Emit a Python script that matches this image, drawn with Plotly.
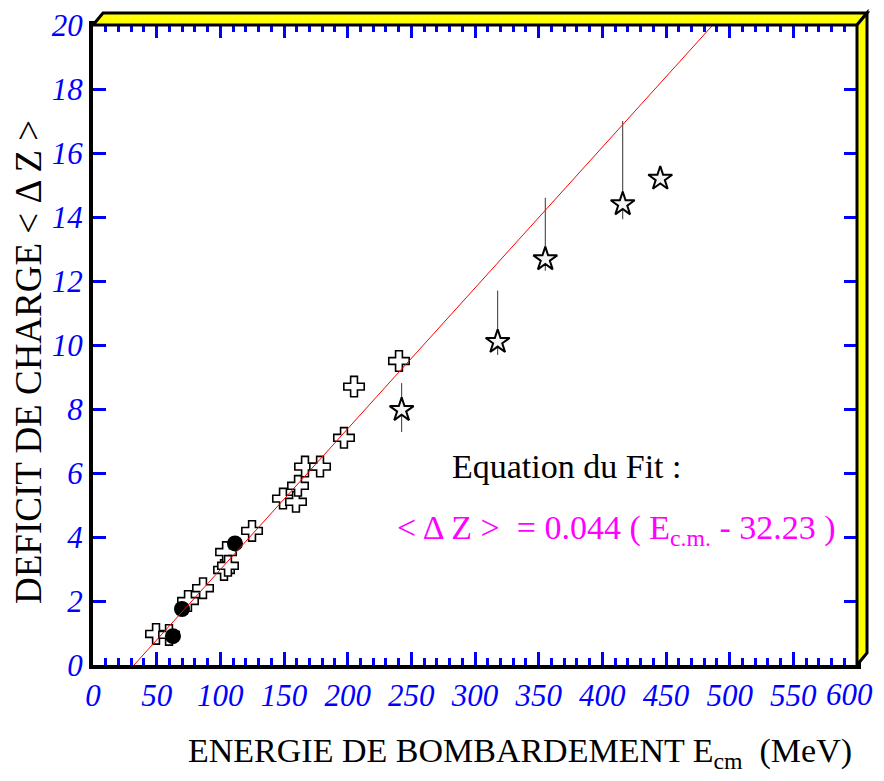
import plotly.graph_objects as go
import numpy as np

# ---- data ----
circle_x = [62.8, 69.9, 111.5]
circle_y = [0.9, 1.75, 3.8]

cross_x = [49.5, 59.7, 74.6, 86.4, 102.9, 104.5, 106.0, 124.9, 149.2, 159.4, 161.0, 166.5, 178.3, 197.1, 205.0, 240.3]
cross_y = [0.97, 0.94, 2.0, 2.4, 2.97, 3.53, 3.1, 4.19, 5.2, 5.1, 5.6, 6.2, 6.2, 7.1, 8.7, 9.5]

star_x = [242.4, 317.8, 355.2, 416.0, 445.5]
star_y = [7.97, 10.1, 12.68, 14.4, 15.2]
star_err_plus = [0.84, 1.6, 1.92, 2.6, 0.0]
star_err_minus = [0.69, 0.41, 0.36, 0.47, 0.0]

fit_slope = 0.044
fit_e0 = 32.23

x_range = [0, 600]
y_range = [0, 20]
x_tick_vals = [0, 50, 100, 150, 200, 250, 300, 350, 400, 450, 500, 550, 600]
x_tick_text = [str(v) for v in x_tick_vals]
y_tick_vals = [0, 2, 4, 6, 8, 10, 12, 14, 16, 18, 20]
y_tick_text = [str(v) for v in y_tick_vals]

# fit line from the fit parameters, clipped to the frame
fit_x = np.array([fit_e0, fit_e0 + y_range[1] / fit_slope])
fit_y = fit_slope * (fit_x - fit_e0)

SERIF = "Liberation Serif"

fig = go.Figure()

fig.add_trace(go.Scatter(
    x=cross_x, y=cross_y, mode="markers",
    marker=dict(symbol="cross", size=17, color="white", line=dict(color="black", width=1.6)),
    showlegend=False))

fig.add_trace(go.Scatter(
    x=circle_x, y=circle_y, mode="markers",
    marker=dict(symbol="circle", size=16, color="black", line=dict(color="black", width=0)),
    showlegend=False))

fig.add_trace(go.Scatter(
    x=star_x, y=star_y, mode="markers",
    marker=dict(symbol="star", size=18, color="#f4f4f4", line=dict(color="black", width=2)),
    error_y=dict(type="data", symmetric=False, array=star_err_plus, arrayminus=star_err_minus,
                 color="#333333", thickness=1, width=0),
    showlegend=False))

fig.add_trace(go.Scatter(
    x=fit_x, y=fit_y, mode="lines",
    line=dict(color="red", width=1), showlegend=False))

# 3D-looking frame (top and right yellow bands)
W_PLOT = 764.0
H_PLOT = 640.0
dx = 10 / W_PLOT
dy = 12 / H_PLOT
fig.add_shape(type="path", xref="paper", yref="paper",
              path=f"M 0 1 L {dx} {1+dy} L {1+dx} {1+dy} L 1 1 Z",
              fillcolor="yellow", line=dict(color="black", width=3), layer="above")
fig.add_shape(type="path", xref="paper", yref="paper",
              path=f"M 1 1 L {1+dx} {1+dy} L {1+dx} {dy} L 1 0 Z",
              fillcolor="yellow", line=dict(color="black", width=3), layer="above")

tickfont = dict(family=SERIF, size=31, color="blue", style="italic")

# the last x label is drawn as an annotation so it is not cut by the page edge
fig.update_xaxes(range=x_range, tickmode="array", tickvals=x_tick_vals[:-1],
                 ticktext=x_tick_text[:-1], ticks="inside", ticklen=13, tickwidth=3,
                 tickcolor="blue", mirror="allticks", showline=True, linecolor="black",
                 linewidth=4, showgrid=False, zeroline=False, tickfont=tickfont,
                 automargin=False, ticklabeloverflow="allow",
                 minor=dict(dtick=10, tick0=0, ticks="inside", ticklen=7, tickwidth=3,
                            tickcolor="blue", showgrid=False))
fig.update_yaxes(range=y_range, tickmode="array", tickvals=y_tick_vals, ticktext=y_tick_text,
                 ticks="inside", ticklen=13, tickwidth=3,
                 tickcolor="blue", mirror="allticks", showline=True, linecolor="black",
                 linewidth=4, showgrid=False, zeroline=False, tickfont=tickfont,
                 automargin=False, ticklabeloverflow="allow")

fig.add_annotation(text=x_tick_text[-1], xref="paper", yref="paper",
                   x=(875 - 93) / W_PLOT, y=(665 - 694) / H_PLOT,
                   showarrow=False, xanchor="right", yanchor="middle", font=tickfont)

fig.add_annotation(text="ENERGIE DE BOMBARDEMENT E<sub>cm</sub>  (MeV)",
                   xref="paper", yref="paper", x=(519 - 92) / W_PLOT, y=(665 - 753) / H_PLOT,
                   showarrow=False, xanchor="center", yanchor="middle",
                   font=dict(family=SERIF, size=34, color="black"))
fig.add_annotation(text="DEFICIT DE CHARGE < Δ Z >",
                   xref="paper", yref="paper", x=(27 - 92) / W_PLOT, y=(665 - 362) / H_PLOT,
                   showarrow=False, xanchor="center", yanchor="middle", textangle=-90,
                   font=dict(family=SERIF, size=37, color="black"))
fig.add_annotation(text="Equation du Fit :",
                   xref="paper", yref="paper", x=(566 - 92) / W_PLOT, y=(665 - 466) / H_PLOT,
                   showarrow=False, xanchor="center", yanchor="middle",
                   font=dict(family=SERIF, size=34, color="black"))
fig.add_annotation(text="< Δ Z >  = 0.044 ( E<sub>c.m.</sub> - 32.23 )",
                   xref="paper", yref="paper", x=(615 - 92) / W_PLOT, y=(665 - 530) / H_PLOT,
                   showarrow=False, xanchor="center", yanchor="middle",
                   font=dict(family=SERIF, size=34, color="#FF00FF"))

fig.update_layout(width=868, height=765, margin=dict(l=85, r=19, t=17, b=108),
                  paper_bgcolor="white", plot_bgcolor="white")

fig.write_html("out.html")
